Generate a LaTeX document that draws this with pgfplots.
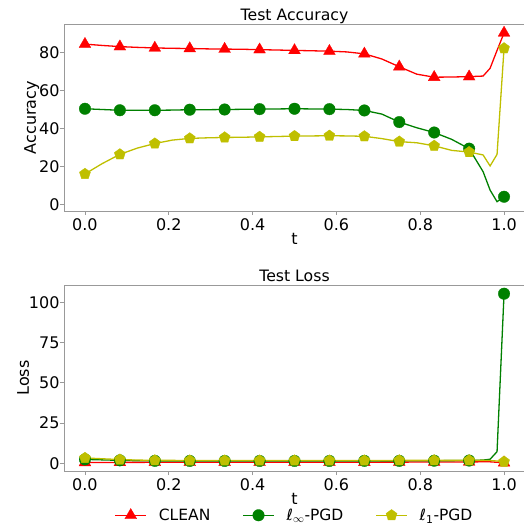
\documentclass[border=0pt]{standalone}
\usepackage{fontspec}
\setmainfont{DejaVu Sans}
\usepackage{pgfplots}
\usepackage{pgfplotstable}
\pgfplotsset{compat=1.18}
\definecolor{mplred}{HTML}{FF0000}
\definecolor{mplgreen}{HTML}{008000}
\definecolor{mplyellow}{HTML}{BFBF00}
\definecolor{spine}{HTML}{999999}

% test accuracy
\pgfplotstableread{
t      clean linf lone
0.0000 84.3  50.3 16.0
0.0417 83.6  49.9 21.5
0.0833 83.0  49.5 26.3
0.1250 82.6  49.5 29.6
0.1667 82.3  49.5 32.0
0.2083 82.1  49.6 33.8
0.2500 82.0  49.8 34.7
0.2917 81.8  49.8 35.0
0.3333 81.7  49.9 35.2
0.3750 81.6  50.0 35.3
0.4167 81.4  50.1 35.5
0.4583 81.2  50.2 35.7
0.5000 81.0  50.3 35.9
0.5417 80.8  50.2 36.0
0.5833 80.6  50.1 36.1
0.6250 80.2  49.9 36.0
0.6667 79.2  49.4 35.8
0.7083 76.5  47.5 34.6
0.7500 72.4  43.3 33.0
0.7917 68.5  40.3 32.4
0.8333 66.9  37.8 30.8
0.8750 67.0  34.2 28.4
0.9167 67.2  29.3 27.5
0.9500 67.5  17.2 26.0
0.9667 71.6  7.5  20.2
0.9833 81.0  1.4  26.3
1.0000 90.2  4.0  82.1
}\acc

% test loss
\pgfplotstableread{
t      clean linf  lone
0.0000 0.50  2.4   3.3
0.0417 0.50  2.1   2.8
0.0833 0.55  1.8   2.3
0.1250 0.55  1.6   2.0
0.1667 0.60  1.5   1.8
0.2083 0.60  1.5   1.8
0.2500 0.60  1.45  1.7
0.2917 0.60  1.45  1.7
0.3333 0.60  1.45  1.7
0.3750 0.60  1.45  1.7
0.4167 0.60  1.45  1.7
0.4583 0.60  1.45  1.7
0.5000 0.60  1.45  1.7
0.5417 0.60  1.45  1.7
0.5833 0.60  1.45  1.7
0.6250 0.65  1.45  1.7
0.6667 0.65  1.5   1.7
0.7083 0.70  1.5   1.75
0.7500 0.70  1.5   1.8
0.7917 0.75  1.55  1.8
0.8333 0.80  1.6   1.8
0.8750 0.80  1.65  1.8
0.9167 0.85  1.7   1.8
0.9500 0.90  2.0   1.8
0.9667 0.90  2.5   1.7
0.9833 0.60  7.2   1.4
1.0000 0.35  105.3 1.0
}\loss

\pgfplotsset{
  panel/.style={
    scale only axis, width=461pt,
    xmin=-0.05, xmax=1.05,
    xtick={0,0.2,0.4,0.6,0.8,1},
    xticklabels={0.0,0.2,0.4,0.6,0.8,1.0},
    tick pos=left, tick align=outside, major tick length=4pt,
    axis line style={spine, line width=0.8pt},
    tick style={spine, line width=0.8pt},
    ticklabel style={font=\fontsize{16}{19}\selectfont},
    yticklabel style={xshift=3pt},
    label style={font=\fontsize{16}{19}\selectfont},
    every axis title/.style={at={(0.5,1)}, anchor=base, yshift=3pt, font=\fontsize{15.7}{18}\selectfont},
    /pgf/number format/assume math mode=true,
    xlabel={t}, xlabel style={yshift=4pt},
    ylabel shift=-7pt,
  },
  mk/.style={mark indices={1,3,5,7,9,11,13,15,17,19,21,23,27}},
  sclean/.style={mplred, line width=1.3pt, mark=triangle*, mark size=6.8pt, mark options={fill=mplred, draw=mplred, line width=0.3pt}},
  slinf/.style={mplgreen, line width=1.3pt, mark=*, mark size=5.8pt, mark options={fill=mplgreen, draw=mplgreen, line width=0.3pt}},
  slone/.style={mplyellow, line width=1.3pt, mark=pentagon*, mark size=5.8pt, mark options={fill=mplyellow, draw=mplyellow, line width=0.3pt}},
}

\begin{document}
\begin{tikzpicture}
\begin{axis}[panel, name=top, at={(0pt,260pt)}, height=187pt,
  title={Test Accuracy}, ylabel={Accuracy},
  ymin=-3.5, ymax=94.9, ytick={0,20,40,60,80}]
\addplot[sclean, mk] table[x=t, y=clean] {\acc};
\addplot[slinf, mk] table[x=t, y=linf] {\acc};
\addplot[slone, mk] table[x=t, y=lone] {\acc};
\end{axis}

\begin{axis}[panel, name=bot, at={(0pt,0pt)}, height=186pt,
  title={Test Loss}, ylabel={Loss},
  ymin=-4.8, ymax=110.7, ytick={0,25,50,75,100},
  legend columns=3,
  legend style={draw=none, fill=none, font=\fontsize{15.5}{18}\selectfont,
    at={(0.5,-0.238)}, anchor=center,
    /tikz/every odd column/.append style={column sep=10pt},
    /tikz/every even column/.append style={column sep=30pt}},
  legend image code/.code={\draw[mark repeat=2, mark phase=2, #1] plot coordinates {(0pt,0pt) (15.5pt,0pt) (31pt,0pt)};}]
\addlegendimage{sclean}
\addlegendentry{CLEAN}
\addlegendimage{slinf}
\addlegendentry{ℓ\textsubscript{$\infty$}-PGD}
\addlegendimage{slone}
\addlegendentry{ℓ\textsubscript{1}-PGD}
\addplot[sclean, mk, forget plot] table[x=t, y=clean] {\loss};
\addplot[slinf, mk, forget plot] table[x=t, y=linf] {\loss};
\addplot[slone, mk, forget plot] table[x=t, y=lone] {\loss};
\end{axis}
\pgfresetboundingbox
\useasboundingbox (-64pt,-54pt) rectangle (459pt,471pt);
\end{tikzpicture}
\end{document}
